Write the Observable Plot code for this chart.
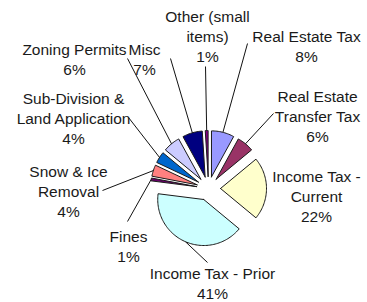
<!DOCTYPE html>
<html>
<head>
<meta charset="utf-8">
<script src="https://cdn.jsdelivr.net/npm/d3@7"></script>
<script src="https://cdn.jsdelivr.net/npm/@observablehq/plot@0.6"></script>
<style>
  html, body { margin: 0; padding: 0; background: #fff; }
  #chart svg { display: block; }
</style>
</head>
<body>
<div id="chart"></div>
<script>
// ---- data (clockwise from 12 o'clock) ----
const categories = [
  "Real Estate Tax", "Real Estate Transfer Tax", "Income Tax - Current",
  "Income Tax - Prior", "Fines", "Snow & Ice Removal",
  "Sub-Division & Land Application", "Zoning Permits", "Misc", "Other (small items)"
];
const shares = [8, 6, 22, 41, 1, 4, 4, 6, 7, 1];
const labelText = [
  "Real Estate Tax", "Real Estate\nTransfer Tax", "Income Tax -\nCurrent",
  "Income Tax - Prior", "Fines", "Snow & Ice\nRemoval",
  "Sub-Division &\nLand Application", "Zoning Permits", "Misc", "Other (small\nitems)"
];

// ---- styles / layout (separate from data) ----
const colors = ["#9999FF", "#993366", "#FFFFCC", "#CCFFFF", "#660066",
                "#FF8080", "#0066CC", "#CCCCFF", "#000080", "#800080"];
const W = 367, H = 302;
const cx = 208, cy = 188, R = 46, explode = 12;
// label block centre and leader-line start (null = no leader)
const labelLayout = [
  {x: 306, y: 45,    lx: 247, ly: 43},
  {x: 317, y: 115,   lx: 273, ly: 113},
  {x: 316, y: 195,   lx: null, ly: null},
  {x: 212, y: 282,   lx: 207, ly: 262},
  {x: 128, y: 245,   lx: 127, ly: 221},
  {x: 68,  y: 190,   lx: 102, ly: 190},
  {x: 73,  y: 117,   lx: 128, ly: 117},
  {x: 74,  y: 58.5,  lx: 127, ly: 58},
  {x: 144, y: 58.5,  lx: 170, ly: 58},
  {x: 207, y: 35,    lx: 205, ly: 66}
];

// ---- geometry from data ----
const total = d3.sum(shares);
const pie = d3.pie().sort(null).value(d => d)(shares);
const polys = [];
const slices = pie.map((p, i) => {
  const a0 = p.startAngle, a1 = p.endAngle, mid = (a0 + a1) / 2;
  const ax = cx + explode * Math.sin(mid), ay = cy - explode * Math.cos(mid);
  const n = Math.max(4, Math.ceil((a1 - a0) / 0.03));
  const pts = [{x: ax, y: ay}];
  for (let k = 0; k <= n; k++) {
    const a = a0 + (a1 - a0) * k / n;
    pts.push({x: ax + R * Math.sin(a), y: ay - R * Math.cos(a)});
  }
  pts.push({x: ax, y: ay});
  pts.forEach(q => polys.push({...q, cat: categories[i], color: colors[i]}));
  return {
    cat: categories[i],
    ox: ax + R * Math.sin(mid), oy: ay - R * Math.cos(mid)
  };
});

const labels = categories.map((c, i) => ({
  text: labelText[i] + "\n" + Math.round(shares[i] / total * 100) + "%",
  x: labelLayout[i].x, y: labelLayout[i].y
}));
const leaders = categories.map((c, i) => ({
  x1: labelLayout[i].lx, y1: labelLayout[i].ly, x2: slices[i].ox, y2: slices[i].oy
})).filter(d => d.x1 != null);

const chart = Plot.plot({
  width: W, height: H,
  margin: 0,
  x: {domain: [0, W], range: [0, W], axis: null},
  y: {domain: [0, H], range: [0, H], axis: null},
  style: {background: "#fff"},
  marks: [
    Plot.line(polys, {x: "x", y: "y", z: "cat", fill: "color",
      stroke: "#1a1a1a", strokeWidth: 1, curve: "linear", strokeLinejoin: "miter"}),
    Plot.link(leaders, {x1: "x1", y1: "y1", x2: "x2", y2: "y2",
      stroke: "#111", strokeWidth: 1}),
    Plot.text(labels, {x: "x", y: "y", text: "text", fontSize: 15.5,
      lineHeight: 1.29, fill: "#1a1a1a", fontFamily: "Liberation Sans, Arial, sans-serif"})
  ]
});
document.getElementById("chart").appendChild(chart);
</script>
</body>
</html>
